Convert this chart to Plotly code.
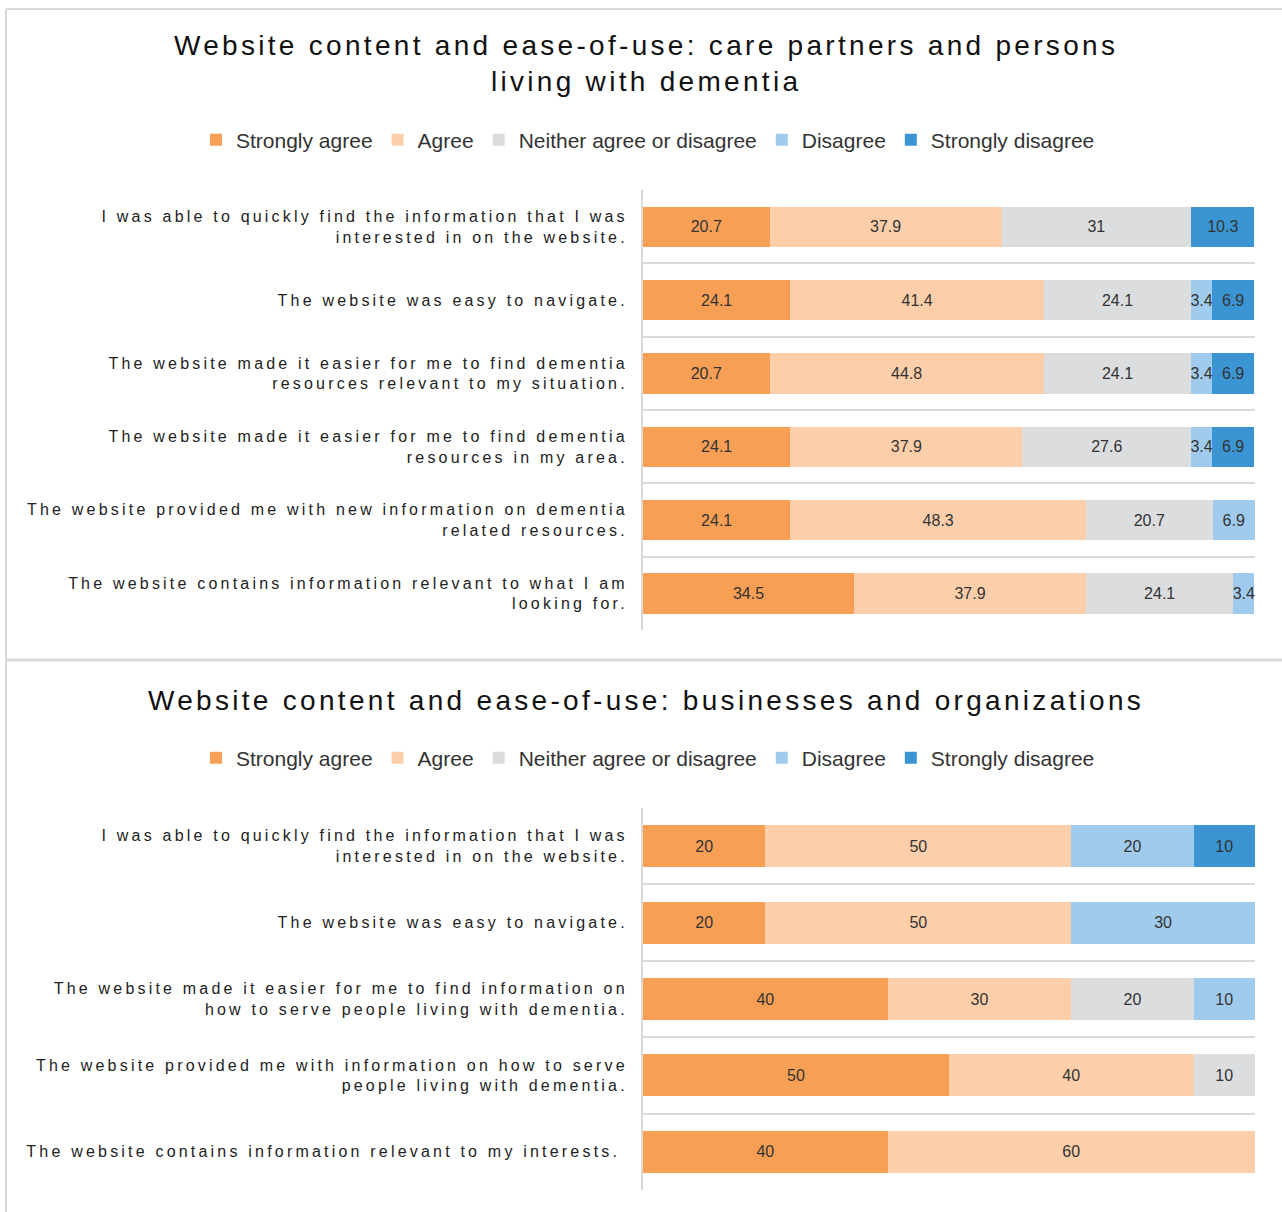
import plotly.graph_objects as go

W, H = 1282, 1212

series_names = ["Strongly agree", "Agree", "Neither agree or disagree", "Disagree", "Strongly disagree"]
series_colors = ["#F79F55", "#FCCFAA", "#DCDDDF", "#A0CBEC", "#3A95D2"]

top_title_lines = ["Website content and ease-of-use: care partners and persons",
                   "living with dementia"]
top_questions = [
    ["I was able to quickly find the information that I was", "interested in on the website."],
    ["The website was easy to navigate."],
    ["The website made it easier for me to find dementia", "resources relevant to my situation."],
    ["The website made it easier for me to find dementia", "resources in my area."],
    ["The website provided me with new information on dementia", "related resources."],
    ["The website contains information relevant to what I am", "looking for."],
]
top_strongly_agree = [20.7, 24.1, 20.7, 24.1, 24.1, 34.5]
top_agree = [37.9, 41.4, 44.8, 37.9, 48.3, 37.9]
top_neither = [31, 24.1, 24.1, 27.6, 20.7, 24.1]
top_disagree = [0, 3.4, 3.4, 3.4, 6.9, 3.4]
top_strongly_disagree = [10.3, 6.9, 6.9, 6.9, 0, 0]

bot_title_lines = ["Website content and ease-of-use: businesses and organizations"]
bot_questions = [
    ["I was able to quickly find the information that I was", "interested in on the website."],
    ["The website was easy to navigate."],
    ["The website made it easier for me to find information on", "how to serve people living with dementia."],
    ["The website provided me with information on how to serve", "people living with dementia."],
    ["The website contains information relevant to my interests.\u00a0"],
]
bot_strongly_agree = [20, 20, 40, 50, 40]
bot_agree = [50, 50, 30, 40, 60]
bot_neither = [0, 0, 20, 10, 0]
bot_disagree = [20, 30, 10, 0, 0]
bot_strongly_disagree = [10, 0, 0, 0, 0]

top_series = [top_strongly_agree, top_agree, top_neither, top_disagree, top_strongly_disagree]
bot_series = [bot_strongly_agree, bot_agree, bot_neither, bot_disagree, bot_strongly_disagree]

GRID = "#D9D9D9"
LABEL_FONT = dict(family="Liberation Sans", size=16, color="#222222")


def spaced(lines, ls):
    return "<br>".join(f'<span style="letter-spacing:{ls}px">{ln}</span>' for ln in lines)


def px_x(v):
    return v / W


def px_y(v):
    return 1 - v / H


fig = go.Figure()


def add_panel(series, questions, xa, ya, legend_name):
    pos = list(range(len(questions)))
    for name, color, vals in zip(series_names, series_colors, series):
        fig.add_trace(go.Bar(
            y=pos, x=vals, orientation="h", name=name,
            marker=dict(color=color, line=dict(width=0)),
            text=["" if v == 0 else f"{v:g}" for v in vals],
            texttemplate="%{text}", textposition="inside",
            insidetextanchor="middle", textangle=0, constraintext="none",
            textfont=dict(family="Liberation Sans", size=16, color="#333333"),
            cliponaxis=False,
            xaxis=xa, yaxis=ya, legend=legend_name, hoverinfo="skip",
        ))


add_panel(top_series, top_questions, "x", "y", "legend")
add_panel(bot_series, bot_questions, "x2", "y2", "legend2")

xdom = [px_x(643), px_x(1255)]


def yaxis_cfg(questions, top_px, bot_px, xa):
    n = len(questions)
    return dict(
        domain=[px_y(bot_px), px_y(top_px)],
        range=[n - 0.5, -0.5],
        tickmode="array", tickvals=list(range(n)),
        ticktext=[spaced(q, 3.2) for q in questions],
        tickfont=LABEL_FONT, ticks="", ticklabelstandoff=10,
        showgrid=False, zeroline=False,
        showline=True, linecolor=GRID, linewidth=2,
        minor=dict(tickmode="array", tickvals=[i - 0.5 for i in range(n + 1)],
                   showgrid=True, gridcolor=GRID, gridwidth=2, ticks=""),
        anchor=xa, fixedrange=True,
    )


def xaxis_cfg(ya):
    return dict(domain=xdom, range=[0, 100.02], showgrid=False, zeroline=False,
                showticklabels=False, showline=False, anchor=ya, fixedrange=True)


legend_common = dict(
    orientation="h", xanchor="center", yanchor="middle",
    font=dict(family="Liberation Sans", size=21, color="#333333"),
    itemwidth=30, traceorder="normal", bgcolor="rgba(0,0,0,0)",
    itemclick=False, itemdoubleclick=False,
)

TITLE_FONT = dict(family="Liberation Sans", size=28, color="#111111")

fig.update_layout(
    width=W, height=H,
    margin=dict(l=0, r=0, t=0, b=0),
    paper_bgcolor="white", plot_bgcolor="white",
    barmode="stack", bargap=0.45,
    showlegend=True,
    uniformtext=dict(minsize=16, mode="show"),
    xaxis=xaxis_cfg("y"),
    yaxis=yaxis_cfg(top_questions, 190, 630, "x"),
    xaxis2=xaxis_cfg("y2"),
    yaxis2=yaxis_cfg(bot_questions, 808, 1190, "x2"),
    legend=dict(x=px_x(648), y=px_y(140), **legend_common),
    legend2=dict(x=px_x(648), y=px_y(758), **legend_common),
    annotations=[
        dict(text=spaced(top_title_lines, 3.3), x=px_x(646), y=px_y(64), xref="paper", yref="paper",
             showarrow=False, xanchor="center", yanchor="middle", font=TITLE_FONT),
        dict(text=spaced(bot_title_lines, 3.3), x=px_x(646), y=px_y(700), xref="paper", yref="paper",
             showarrow=False, xanchor="center", yanchor="middle", font=TITLE_FONT),
    ],
    shapes=[
        dict(type="line", xref="paper", yref="paper", x0=px_x(6), x1=1, y0=px_y(9), y1=px_y(9),
             line=dict(color=GRID, width=2)),
        dict(type="line", xref="paper", yref="paper", x0=px_x(6), x1=px_x(6), y0=px_y(9), y1=0,
             line=dict(color=GRID, width=2)),
        dict(type="line", xref="paper", yref="paper", x0=px_x(6), x1=1, y0=px_y(660), y1=px_y(660),
             line=dict(color=GRID, width=3)),
    ],
)

fig.write_html("out.html")
